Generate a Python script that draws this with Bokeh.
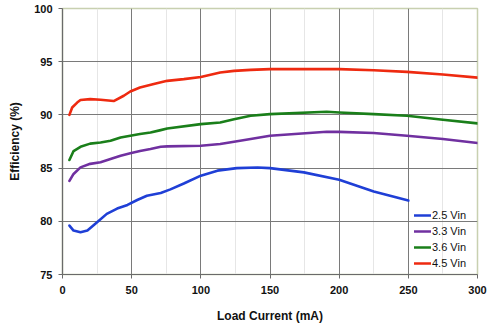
from bokeh.plotting import figure
from bokeh.models import FixedTicker, Legend, LegendItem, Range1d
from bokeh.embed import file_html
from bokeh.resources import INLINE

# Data
x_25 = [5, 8, 13, 18, 25, 32, 39.5, 47, 54, 61, 71, 78, 87.7, 100, 112, 126, 141, 150, 174.5, 200, 225, 250]
y_25 = [79.6, 79.13, 78.97, 79.13, 79.9, 80.7, 81.2, 81.54, 82.0, 82.4, 82.66, 83.0, 83.55, 84.29, 84.76, 85.0, 85.05, 85.0, 84.6, 83.9, 82.8, 81.95]

x_33 = [5, 8, 13, 20, 27.5, 34.7, 42, 49, 56, 63.6, 71, 75.7, 100, 114, 124, 136, 150, 191, 200, 225, 249, 275, 300]
y_33 = [83.8, 84.45, 85.07, 85.4, 85.55, 85.85, 86.16, 86.4, 86.6, 86.79, 87.0, 87.04, 87.1, 87.26, 87.48, 87.73, 88.04, 88.42, 88.4, 88.3, 88.04, 87.73, 87.36]

x_36 = [5, 8, 13, 20, 27.5, 34.7, 42, 49, 56, 63.6, 71, 75.7, 100, 114, 124, 136, 150, 191, 200, 225, 249, 275, 300]
y_36 = [85.76, 86.6, 87.0, 87.3, 87.41, 87.57, 87.88, 88.04, 88.2, 88.35, 88.57, 88.72, 89.13, 89.29, 89.6, 89.92, 90.07, 90.29, 90.23, 90.07, 89.92, 89.54, 89.2]

x_45 = [5, 7, 10.6, 13, 20, 27.5, 37, 44.3, 49, 56, 66, 75.7, 87.7, 100, 114, 124, 136, 150, 200, 225, 249, 275, 300]
y_45 = [90.0, 90.7, 91.16, 91.4, 91.48, 91.42, 91.3, 91.8, 92.2, 92.57, 92.9, 93.2, 93.36, 93.57, 93.98, 94.14, 94.23, 94.3, 94.3, 94.2, 94.04, 93.79, 93.5]

series_names = ["2.5 Vin", "3.3 Vin", "3.6 Vin", "4.5 Vin"]
series_colors = ["#1f3fd6", "#7030a0", "#1a7f1a", "#ee2a10"]

x_ticks = [0, 50, 100, 150, 200, 250, 300]
x_minor = [25, 75, 125, 175, 225, 275]
y_ticks = [75, 80, 85, 90, 95, 100]

FONT = "Liberation Sans"

p = figure(width=500, height=325, output_backend="svg", toolbar_location=None,
           x_range=Range1d(0, 300), y_range=Range1d(75, 100))
p.min_border_left = 62
p.min_border_right = 23
p.min_border_top = 8
p.min_border_bottom = 51
p.background_fill_color = "white"
p.border_fill_color = "white"
p.outline_line_color = "#c8d0b0"
p.outline_line_width = 1.5

xt = FixedTicker(ticks=x_ticks, minor_ticks=x_minor)
yt = FixedTicker(ticks=y_ticks)
p.xaxis.ticker = xt
p.yaxis.ticker = yt

p.xgrid.grid_line_color = "#7a7a7a"
p.xgrid.grid_line_width = 1
p.xgrid.minor_grid_line_color = "#e6e6e6"
p.ygrid.grid_line_color = "#7a7a7a"
p.ygrid.grid_line_width = 1

for ax in (p.xaxis[0], p.yaxis[0]):
    ax.axis_line_color = "#6a6a6a"
    ax.axis_line_width = 1.2
    ax.major_tick_line_color = "#6a6a6a"
    ax.major_tick_in = 0
    ax.major_tick_out = 4
    ax.minor_tick_line_color = None
    ax.major_label_text_font = FONT
    ax.major_label_text_font_style = "bold"
    ax.major_label_text_font_size = "11px"
    ax.major_label_text_color = "#111111"
    ax.axis_label_text_font = FONT
    ax.axis_label_text_font_style = "bold"
    ax.axis_label_text_font_size = "12px"
    ax.axis_label_text_color = "#111111"

p.xaxis.axis_label = "Load Current (mA)"
p.yaxis.axis_label = "Efficiency (%)"
p.xaxis.major_label_standoff = 7
p.xaxis.axis_label_standoff = 12
p.yaxis.major_label_standoff = 6
p.yaxis.axis_label_standoff = 9

xs = [x_25, x_33, x_36, x_45]
ys = [y_25, y_33, y_36, y_45]
items = []
for name, color, xx, yy in zip(series_names, series_colors, xs, ys):
    r = p.line(xx, yy, line_color=color, line_width=2.6, line_join="round", line_cap="round")
    items.append(LegendItem(label=name, renderers=[r]))

legend = Legend(items=items, location=(352, 3), padding=0, margin=0, spacing=0,
                glyph_width=17, glyph_height=16, label_height=16, label_standoff=1,
                label_text_font=FONT, label_text_font_size="11px", label_text_color="#111111",
                border_line_alpha=0, background_fill_alpha=0)
p.add_layout(legend, "center")

open("out.html", "w").write(file_html(p, INLINE))
